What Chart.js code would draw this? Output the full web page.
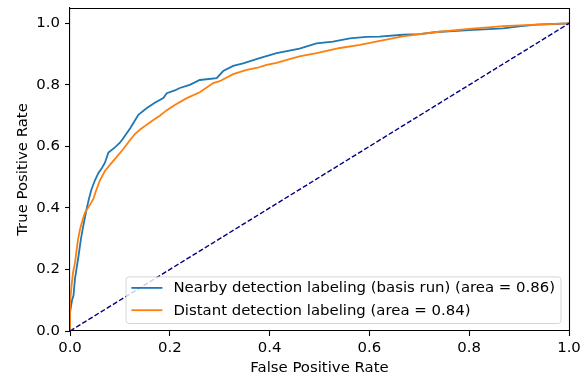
<!DOCTYPE html>
<html>
<head>
<meta charset="utf-8">
<script src="https://cdn.jsdelivr.net/npm/chart.js@4/dist/chart.umd.min.js"></script>
<style>
  html, body { margin: 0; padding: 0; background: #ffffff; }
  #wrap { width: 587px; height: 380px; }
</style>
</head>
<body>
<div id="wrap"><canvas id="roc" width="587" height="380"></canvas></div>
<script>
// ROC curve: nearby labeling (basis run)
const nearbyFpr = [0, 0, 0.004, 0.007, 0.01, 0.017, 0.022, 0.027, 0.033, 0.038, 0.043, 0.05, 0.057, 0.064, 0.07, 0.077, 0.09, 0.1, 0.106, 0.114, 0.121, 0.127, 0.137, 0.154, 0.17, 0.187, 0.194, 0.21, 0.22, 0.24, 0.26, 0.294, 0.307, 0.327, 0.347, 0.38, 0.414, 0.46, 0.494, 0.527, 0.561, 0.594, 0.62, 0.667, 0.70, 0.735, 0.80, 0.868, 0.90, 0.935, 0.97, 1.0];
const nearbyTpr = [0, 0.06, 0.10, 0.115, 0.17, 0.243, 0.30, 0.345, 0.394, 0.43, 0.46, 0.49, 0.514, 0.53, 0.547, 0.58, 0.597, 0.612, 0.625, 0.644, 0.66, 0.676, 0.703, 0.725, 0.742, 0.757, 0.773, 0.782, 0.79, 0.80, 0.816, 0.822, 0.845, 0.862, 0.87, 0.887, 0.903, 0.918, 0.935, 0.941, 0.951, 0.956, 0.957, 0.963, 0.965, 0.972, 0.978, 0.984, 0.99, 0.996, 0.998, 1.0];

// ROC curve: distant labeling
const distantFpr = [0, 0, 0.003, 0.006, 0.01, 0.016, 0.02, 0.025, 0.03, 0.04, 0.047, 0.052, 0.06, 0.07, 0.08, 0.094, 0.106, 0.12, 0.13, 0.14, 0.153, 0.167, 0.18, 0.194, 0.21, 0.234, 0.26, 0.287, 0.30, 0.327, 0.354, 0.374, 0.394, 0.414, 0.447, 0.46, 0.494, 0.541, 0.581, 0.621, 0.667, 0.735, 0.80, 0.868, 0.935, 1.0];
const distantTpr = [0, 0.09, 0.145, 0.19, 0.222, 0.297, 0.33, 0.36, 0.385, 0.41, 0.43, 0.455, 0.49, 0.52, 0.54, 0.567, 0.59, 0.62, 0.64, 0.654, 0.67, 0.686, 0.70, 0.718, 0.735, 0.757, 0.776, 0.806, 0.812, 0.835, 0.849, 0.855, 0.865, 0.872, 0.887, 0.893, 0.903, 0.92, 0.93, 0.943, 0.958, 0.972, 0.982, 0.991, 0.996, 1.0];

// chance line
const chanceFpr = [0, 1];
const chanceTpr = [0, 1];

const seriesNames = ['Nearby detection labeling (basis run)', 'Distant detection labeling'];
const seriesAreas = [0.86, 0.84];
const axisTicks = [0, 0.2, 0.4, 0.6, 0.8, 1.0];

const FONT = '"DejaVu Sans", sans-serif';
const FS = 14.9;

const toPoints = (xs, ys) => xs.map((x, i) => ({ x: x, y: ys[i] }));

// top/right spines + boxed legend in the lower-right corner
const framePlugin = {
  id: 'frameAndLegend',
  afterDatasetsDraw(chart) {
    const { ctx, chartArea: a } = chart;
    ctx.save();
    ctx.strokeStyle = '#000000';
    ctx.lineWidth = 1.1;
    ctx.beginPath();
    ctx.moveTo(a.left, a.top + 0.5);
    ctx.lineTo(a.right + 0.5, a.top + 0.5);
    ctx.lineTo(a.right + 0.5, a.bottom);
    ctx.stroke();

    const items = chart.data.datasets.filter(d => d.inLegend);
    ctx.font = FS + 'px ' + FONT;
    const textW = Math.max(...items.map(d => ctx.measureText(d.label).width));
    const padL = 5.3, handle = 31, gap = 11, padR = 6;
    const w = padL + handle + gap + textW + padR;
    const h = 46.6;
    const right = a.right - 8, bottom = a.bottom - 7.5;
    const left = right - w, top = bottom - h;
    const r = 3;
    ctx.beginPath();
    ctx.moveTo(left + r, top);
    ctx.arcTo(right, top, right, bottom, r);
    ctx.arcTo(right, bottom, left, bottom, r);
    ctx.arcTo(left, bottom, left, top, r);
    ctx.arcTo(left, top, right, top, r);
    ctx.closePath();
    ctx.fillStyle = 'rgba(255,255,255,0.8)';
    ctx.fill();
    ctx.strokeStyle = 'rgba(204,204,204,0.8)';
    ctx.lineWidth = 1;
    ctx.stroke();

    items.forEach((d, i) => {
      const y = top + 11 + i * 22.3;
      ctx.strokeStyle = d.borderColor;
      ctx.lineWidth = d.borderWidth;
      ctx.beginPath();
      ctx.moveTo(left + padL, y);
      ctx.lineTo(left + padL + handle, y);
      ctx.stroke();
      ctx.fillStyle = '#000000';
      ctx.textAlign = 'left';
      ctx.textBaseline = 'middle';
      ctx.fillText(d.label, left + padL + handle + gap, y + 0.5);
    });
    ctx.restore();
  }
};

new Chart(document.getElementById('roc'), {
  type: 'line',
  data: {
    datasets: [
      {
        label: seriesNames[0] + ' (area = ' + seriesAreas[0].toFixed(2) + ')',
        data: toPoints(nearbyFpr, nearbyTpr),
        borderColor: '#1f77b4',
        borderWidth: 1.8,
        inLegend: true,
        order: 2
      },
      {
        label: seriesNames[1] + ' (area = ' + seriesAreas[1].toFixed(2) + ')',
        data: toPoints(distantFpr, distantTpr),
        borderColor: '#ff7f0e',
        borderWidth: 1.8,
        inLegend: true,
        order: 1
      },
      {
        label: 'chance',
        data: toPoints(chanceFpr, chanceTpr),
        borderColor: '#000080',
        borderWidth: 1.4,
        borderDash: [5, 2.2],
        inLegend: false,
        order: 0
      }
    ]
  },
  options: {
    responsive: false,
    animation: false,
    devicePixelRatio: 1,
    layout: { padding: { top: 8, right: 18, left: 0, bottom: 0 } },
    elements: { point: { radius: 0 }, line: { tension: 0, fill: false } },
    plugins: { legend: { display: false }, tooltip: { enabled: false } },
    scales: {
      x: {
        type: 'linear',
        min: 0,
        max: 1,
        afterBuildTicks: s => { s.ticks = axisTicks.map(v => ({ value: v })); },
        afterFit: s => { s.height = 49; s.paddingLeft = 0; s.paddingRight = 0; },
        grid: { display: true, drawOnChartArea: false, drawTicks: true, tickLength: 5, tickColor: '#000000', tickWidth: 1.1 },
        border: { display: true, color: '#000000', width: 1.1 },
        ticks: {
          color: '#000000',
          font: { family: FONT, size: FS },
          padding: 3,
          maxRotation: 0,
          callback: v => Number(v).toFixed(1)
        },
        title: {
          display: true,
          text: 'False Positive Rate',
          color: '#000000',
          font: { family: FONT, size: FS },
          padding: { top: 0, bottom: 3.1 }
        }
      },
      y: {
        type: 'linear',
        min: 0,
        max: 1.05,
        afterBuildTicks: s => { s.ticks = axisTicks.map(v => ({ value: v })); },
        afterFit: s => { s.width = 70; s.paddingTop = 0; s.paddingBottom = 0; },
        grid: { display: true, drawOnChartArea: false, drawTicks: true, tickLength: 5, tickColor: '#000000', tickWidth: 1.1 },
        border: { display: true, color: '#000000', width: 1.1 },
        ticks: {
          color: '#000000',
          font: { family: FONT, size: FS },
          padding: 5,
          callback: v => Number(v).toFixed(1)
        },
        title: {
          display: true,
          text: 'True Positive Rate',
          color: '#000000',
          font: { family: FONT, size: FS },
          padding: { top: 14.1, bottom: 0 }
        }
      }
    }
  },
  plugins: [framePlugin]
});
</script>
</body>
</html>
